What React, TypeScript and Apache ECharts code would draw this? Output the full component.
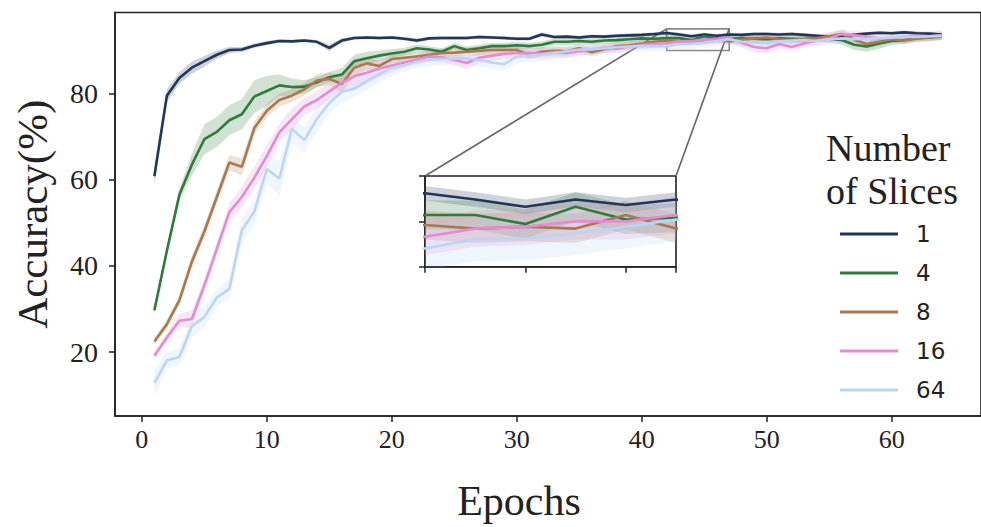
import React, { useEffect, useRef } from 'react';
import * as echarts from 'echarts';

// ---------- data ----------
const EPOCHS = [
  1, 2, 3, 4, 5, 6, 7, 8, 9, 10, 11, 12, 13, 14, 15, 16, 17, 18, 19, 20, 21, 22, 23, 24, 25, 26, 27, 28, 29, 30, 31, 32,
  33, 34, 35, 36, 37, 38, 39, 40, 41, 42, 43, 44, 45, 46, 47, 48, 49, 50, 51, 52, 53, 54, 55, 56, 57, 58, 59, 60, 61, 62, 63, 64,
];

const SLICES = ['1', '4', '8', '16', '64'];

const ACC_1 = [
  60.8, 79.5, 83.6, 86.0, 87.5, 89.0, 90.1, 90.2, 91.1, 91.7, 92.2, 92.1, 92.3, 92.0, 90.6, 92.3, 92.9, 93.0, 92.9, 93.0,
  92.7, 92.3, 92.8, 92.9, 92.9, 92.9, 93.1, 93.0, 92.9, 92.7, 92.7, 93.7, 93.1, 93.2, 93.0, 93.3, 93.2, 93.4, 93.5, 93.6,
  93.8, 94.05, 93.7, 93.3, 93.7, 93.4, 93.7, 93.6, 93.8, 93.8, 93.7, 93.8, 93.6, 93.4, 93.1, 93.3, 93.6, 93.9, 94.1, 94.0,
  94.2, 94.0, 93.9, 93.7,
];
const ACC_4 = [
  29.7, 43.5, 56.5, 63.5, 69.4, 71.1, 73.8, 75.2, 79.3, 80.6, 81.9, 81.5, 81.6, 82.6, 83.8, 84.4, 87.5, 88.2, 88.8, 89.3,
  89.7, 90.5, 90.2, 89.7, 91.0, 90.1, 90.5, 91.0, 91.0, 91.2, 91.0, 91.3, 92.0, 92.0, 92.2, 92.0, 92.3, 92.4, 92.6, 92.8,
  92.7, 92.85, 92.85, 92.35, 93.3, 92.6, 92.7, 92.8, 92.7, 92.6, 92.8, 92.7, 92.6, 92.9, 92.7, 92.4, 91.3, 90.9, 91.6, 92.2,
  92.4, 92.9, 93.0, 93.3,
];
const ACC_8 = [
  22.5, 26.5, 32.0, 41.0, 48.0, 56.0, 64.0, 63.0, 72.0, 76.0, 78.5, 79.5, 81.0, 83.0, 83.4, 82.2, 86.0, 87.0, 86.4, 88.0,
  88.3, 88.6, 89.0, 89.4, 89.5, 89.7, 89.9, 90.1, 90.1, 90.1, 89.0, 89.7, 89.9, 89.8, 90.5, 89.6, 90.3, 91.0, 91.2, 91.6,
  92.0, 92.3, 92.1, 92.2, 92.1, 92.85, 92.1, 92.5, 92.8, 93.0, 92.6, 92.4, 92.7, 92.9, 93.3, 93.8, 92.5, 91.5, 92.0, 92.6,
  92.3, 92.7, 93.0, 93.2,
];
const ACC_16 = [
  19.2, 23.4, 27.3, 27.7, 35.5, 44.0, 52.5, 56.0, 60.5, 65.5, 71.0, 74.0, 77.0, 78.5, 80.5, 82.5, 84.0, 84.8, 85.8, 86.5,
  87.2, 87.9, 88.6, 88.4, 87.8, 87.1, 88.3, 88.8, 89.2, 89.4, 89.4, 89.3, 89.6, 89.4, 89.8, 90.2, 90.6, 90.4, 90.9, 91.3,
  91.5, 91.65, 92.1, 92.2, 92.5, 92.5, 92.85, 91.7, 90.8, 90.5, 91.5, 90.8, 91.6, 92.3, 92.8, 93.8, 93.5, 93.2, 92.8, 92.9,
  93.2, 93.4, 93.3, 93.5,
];
const ACC_64 = [
  12.9, 18.1, 18.9, 26.0, 28.2, 32.7, 34.7, 48.3, 52.6, 62.5, 60.3, 71.8, 69.2, 74.1, 77.8, 80.4, 81.1, 82.9, 84.5, 86.0,
  86.6, 87.4, 87.9, 88.0, 88.1, 88.2, 87.8, 87.2, 86.8, 88.6, 88.8, 89.0, 89.4, 89.8, 90.2, 90.3, 90.5, 90.8, 90.9, 91.0,
  91.0, 91.0, 91.5, 91.55, 91.85, 92.2, 92.6, 92.0, 91.8, 91.7, 92.1, 92.3, 92.4, 92.2, 92.6, 92.8, 92.6, 92.7, 92.9, 93.0,
  93.2, 93.1, 93.3, 93.4,
];

// half-width of the shaded confidence band, per epoch
const SPREAD_1 = [
  2.0, 1.5, 1.4, 1.4, 1.2, 1.0, 0.7, 0.6, 0.5, 0.5, 0.4, 0.4, 0.4, 0.4, 0.8, 0.5, 0.4, 0.4, 0.4, 0.4,
  0.4, 0.5, 0.4, 0.4, 0.4, 0.4, 0.4, 0.4, 0.4, 0.4, 0.4, 0.5, 0.4, 0.4, 0.4, 0.4, 0.4, 0.4, 0.4, 0.4,
  0.4, 0.4, 0.4, 0.4, 0.4, 0.4, 0.4, 0.4, 0.4, 0.4, 0.4, 0.4, 0.4, 0.4, 0.4, 0.4, 0.4, 0.4, 0.4, 0.4,
  0.4, 0.4, 0.4, 0.4,
];
const SPREAD_4 = [
  1.0, 1.0, 1.5, 2.5, 3.5, 3.5, 3.5, 3.5, 3.8, 3.5, 2.5, 2.0, 1.5, 1.2, 1.2, 1.5, 1.5, 1.5, 1.2, 1.0,
  0.9, 0.9, 0.8, 0.8, 0.8, 0.8, 0.8, 0.8, 0.8, 0.8, 0.8, 0.8, 0.8, 0.8, 0.8, 0.8, 0.8, 0.8, 0.8, 0.8,
  0.8, 0.8, 0.8, 0.8, 0.8, 0.8, 0.8, 0.8, 0.8, 0.8, 0.8, 0.8, 0.8, 0.8, 0.9, 1.0, 1.2, 1.2, 1.2, 1.0,
  0.8, 0.8, 0.8, 0.8,
];
const SPREAD_8 = [
  0.8, 1.0, 1.2, 1.5, 1.5, 1.5, 1.8, 2.0, 1.5, 1.5, 1.5, 1.5, 1.5, 1.5, 1.5, 2.0, 2.0, 1.5, 1.2, 1.0,
  1.0, 1.0, 1.0, 1.0, 1.0, 1.0, 1.0, 1.0, 1.0, 1.0, 1.0, 1.0, 1.0, 1.0, 1.0, 1.0, 0.9, 0.9, 0.9, 0.9,
  0.8, 0.8, 0.8, 0.8, 0.8, 0.8, 0.8, 0.8, 0.8, 0.8, 0.8, 0.8, 0.8, 0.8, 0.9, 1.0, 1.0, 1.0, 0.9, 0.8,
  0.8, 0.8, 0.8, 0.8,
];
const SPREAD_16 = [
  1.0, 1.0, 1.5, 2.0, 1.5, 1.5, 2.0, 2.5, 2.5, 2.5, 2.0, 2.5, 2.0, 2.0, 2.0, 2.0, 3.0, 2.5, 2.0, 1.5,
  1.2, 1.2, 1.2, 1.2, 1.2, 1.5, 1.2, 1.2, 1.2, 1.2, 1.2, 1.2, 1.2, 1.2, 1.0, 1.0, 1.0, 1.0, 1.0, 1.0,
  1.0, 1.0, 1.0, 1.0, 1.0, 1.0, 1.0, 1.0, 1.2, 1.2, 1.0, 1.0, 1.0, 1.0, 1.0, 1.0, 1.0, 1.0, 1.0, 1.0,
  1.0, 1.0, 1.0, 1.0,
];
const SPREAD_64 = [
  3.0, 2.0, 2.0, 2.5, 2.5, 2.0, 2.5, 3.0, 3.0, 3.5, 4.0, 3.5, 3.0, 3.0, 2.5, 2.5, 2.0, 2.0, 2.0, 2.0,
  1.5, 1.5, 1.5, 1.5, 1.5, 1.5, 1.5, 1.5, 1.5, 1.5, 1.5, 1.5, 1.5, 1.5, 1.2, 1.2, 1.2, 1.2, 1.2, 1.2,
  1.2, 1.2, 1.2, 1.2, 1.2, 1.2, 1.2, 1.2, 1.2, 1.2, 1.2, 1.2, 1.2, 1.2, 1.2, 1.2, 1.2, 1.2, 1.2, 1.2,
  1.2, 1.2, 1.2, 1.2,
];

const X_TICKS = [0, 10, 20, 30, 40, 50, 60];
const Y_TICKS = [20, 40, 60, 80];
const INSET_X = [42, 47];
const INSET_Y = [90, 95];

const COLORS = ['#22365a', '#2e7c3c', '#a87a4e', '#e58bd3', '#bcd5f5'];
const MEANS = [ACC_1, ACC_4, ACC_8, ACC_16, ACC_64];
const SPREADS = [SPREAD_1, SPREAD_4, SPREAD_8, SPREAD_16, SPREAD_64];

const SERIF = '"Liberation Serif", "Times New Roman", serif';
const SANS = '"DejaVu Sans", sans-serif';
const INK = '#222';

function buildSeries(gi: number) {
  const out: any[] = [];
  MEANS.forEach((m, k) => {
    const sp = SPREADS[k];
    const rows = m.map((v, i) => [EPOCHS[i], v - sp[i], v + sp[i]]);
    out.push({
      type: 'custom',
      name: `band_${gi}_${k}`,
      xAxisIndex: gi,
      yAxisIndex: gi,
      silent: true,
      clip: true,
      z: 2,
      encode: { x: 0, y: [1, 2] },
      data: rows,
      renderItem: (params: any, api: any) => {
        if (params.dataIndex !== 0) return null;
        const pts: number[][] = [];
        for (let i = 0; i < rows.length; i++) pts.push(api.coord([rows[i][0], rows[i][2]]));
        for (let i = rows.length - 1; i >= 0; i--) pts.push(api.coord([rows[i][0], rows[i][1]]));
        return {
          type: 'polygon',
          shape: { points: pts },
          style: { fill: COLORS[k], opacity: 0.22 },
        };
      },
    });
    out.push({
      type: 'line',
      xAxisIndex: gi,
      yAxisIndex: gi,
      symbol: 'none',
      silent: true,
      clip: true,
      z: 3,
      name: gi === 0 ? SLICES[k] : `inset_${k}`,
      data: m.map((v, i) => [EPOCHS[i], v]),
      lineStyle: { color: COLORS[k], width: 2.6 },
      itemStyle: { color: COLORS[k] },
      ...(gi === 0 && k === 0
        ? {
            markArea: {
              silent: true,
              itemStyle: { color: 'rgba(0,0,0,0)', borderColor: '#8a8a8a', borderWidth: 1.6 },
              data: [[{ coord: [INSET_X[0], INSET_Y[1]] }, { coord: [INSET_X[1], INSET_Y[0]] }]],
            },
          }
        : {}),
    });
  });
  return out;
}

export default function App() {
  const ref = useRef<HTMLDivElement>(null);
  useEffect(() => {
    if (!ref.current) return;
    const chart = echarts.init(ref.current, undefined, { renderer: 'svg' });
    const option: any = {
      animation: false,
      backgroundColor: '#fff',
      title: {
        text: 'Number\nof Slices',
        left: 821,
        top: 121,
        textStyle: { fontFamily: SERIF, fontSize: 38, fontWeight: 'normal', color: INK, lineHeight: 43 },
      },
      legend: {
        data: SLICES,
        orient: 'vertical',
        left: 835,
        top: 216,
        icon: 'rect',
        itemWidth: 58,
        itemHeight: 3,
        itemGap: 13,
        selectedMode: false,
        textStyle: { fontFamily: SANS, fontSize: 23, color: INK, padding: [0, 0, 0, 13], lineHeight: 26 },
      },
      grid: [
        {
          left: 115,
          top: 12.5,
          width: 868,
          height: 419.5,
          show: true,
          borderColor: INK,
          borderWidth: 1.6,
          backgroundColor: 'rgba(0,0,0,0)',
        },
        {
          left: 425,
          top: 176,
          width: 251,
          height: 90.7,
          show: true,
          borderColor: INK,
          borderWidth: 1.6,
          backgroundColor: '#fff',
        },
      ],
      xAxis: [
        {
          type: 'value',
          gridIndex: 0,
          min: -2.15,
          max: 67.15,
          name: 'Epochs',
          nameLocation: 'middle',
          nameGap: 64,
          nameTextStyle: { fontFamily: SERIF, fontSize: 42, color: INK, padding: [0, 58, 0, 0] },
          axisLine: { show: true, onZero: false, lineStyle: { color: INK, width: 1.6 } },
          axisTick: { show: true, length: 6, lineStyle: { color: INK, width: 1.5 }, customValues: X_TICKS },
          axisLabel: { fontFamily: SERIF, fontSize: 26, color: INK, margin: 10, customValues: X_TICKS },
          splitLine: { show: false },
        },
        {
          type: 'value',
          gridIndex: 1,
          min: INSET_X[0],
          max: INSET_X[1],
          interval: 2,
          axisLine: { show: true, onZero: false, lineStyle: { color: INK, width: 1.6 } },
          axisTick: { show: true, length: 6, lineStyle: { color: INK, width: 1.5 } },
          axisLabel: { show: false },
          splitLine: { show: false },
        },
      ],
      yAxis: [
        {
          type: 'value',
          gridIndex: 0,
          min: 5.2,
          max: 98.8,
          name: 'Accuracy(%)',
          nameLocation: 'middle',
          nameGap: 61,
          nameRotate: 90,
          nameTextStyle: { fontFamily: SERIF, fontSize: 43, color: INK },
          axisLine: { show: true, onZero: false, lineStyle: { color: INK, width: 1.6 } },
          axisTick: { show: true, length: 6, lineStyle: { color: INK, width: 1.5 }, customValues: Y_TICKS },
          axisLabel: { fontFamily: SERIF, fontSize: 28, color: INK, margin: 17, customValues: Y_TICKS },
          splitLine: { show: false },
        },
        {
          type: 'value',
          gridIndex: 1,
          min: INSET_Y[0],
          max: INSET_Y[1],
          interval: 2.5,
          axisLine: { show: true, onZero: false, lineStyle: { color: INK, width: 1.6 } },
          axisTick: { show: true, length: 6, lineStyle: { color: INK, width: 1.5 } },
          axisLabel: { show: false },
          splitLine: { show: false },
        },
      ],
      series: [...buildSeries(0), ...buildSeries(1)],
    };
    chart.setOption(option);

    // connector lines between zoom rectangle and inset
    const a1 = chart.convertToPixel({ gridIndex: 0 }, [INSET_X[0], INSET_Y[1]]) as number[];
    const a2 = chart.convertToPixel({ gridIndex: 0 }, [INSET_X[1], INSET_Y[1]]) as number[];
    const b1 = chart.convertToPixel({ gridIndex: 1 }, [INSET_X[0], INSET_Y[1]]) as number[];
    const b2 = chart.convertToPixel({ gridIndex: 1 }, [INSET_X[1], INSET_Y[1]]) as number[];
    if (a1 && a2 && b1 && b2) {
      chart.setOption({
        graphic: [
          { type: 'line', z: 1, silent: true, shape: { x1: b1[0], y1: b1[1], x2: a1[0], y2: a1[1] }, style: { stroke: '#666', lineWidth: 1.6 } },
          { type: 'line', z: 1, silent: true, shape: { x1: b2[0], y1: b2[1], x2: a2[0], y2: a2[1] }, style: { stroke: '#666', lineWidth: 1.6 } },
        ],
      });
    }
    return () => chart.dispose();
  }, []);
  return <div ref={ref} style={{ position: 'fixed', left: 0, top: 0, width: 981, height: 527, background: '#fff' }} />;
}
